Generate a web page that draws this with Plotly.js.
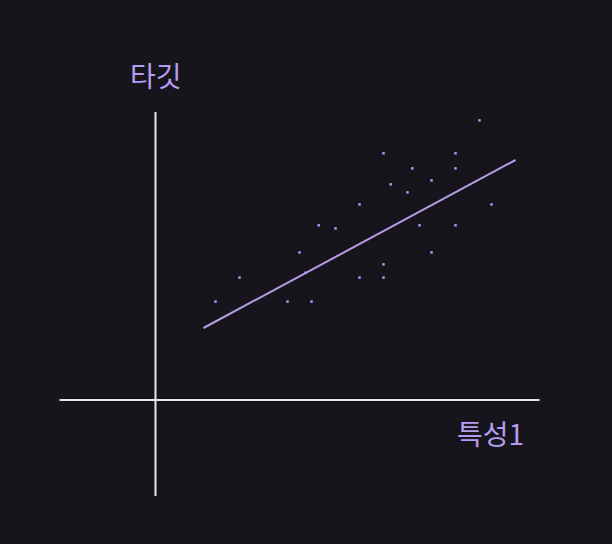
<!DOCTYPE html>
<html>
<head>
<meta charset="utf-8">
<script src="https://cdn.plot.ly/plotly-3.0.1.min.js"></script>
<style>html,body{margin:0;padding:0;background:#17151c;}</style>
</head>
<body>
<div id="chart" style="width:612px;height:544px;"></div>
<script>
// Scatter data (feature 1 vs target)
const featureX = [27.0, 19.0, 25.0, 21.4, 25.0, 23.0, 19.6, 21.0, 17.0, 28.0, 13.6, 15.0, 22.0, 25.0, 12.0, 23.0, 19.0, 7.0, 17.0, 19.0, 5.0, 11.0, 13.0, 12.5];
const targetY  = [23.3, 20.56, 20.56, 19.3, 19.3, 18.3, 17.97, 17.3, 16.3, 16.3, 14.56, 14.3, 14.56, 14.56, 12.3, 12.3, 11.3, 10.2, 10.2, 10.2, 8.2, 8.2, 8.2, 10.6];
// Fitted regression line endpoints
const fitX = [4.0, 30.0];
const fitY = [6.0, 20.0];
// Axis extents
const axisXRange = [-8, 32];
const axisYRange = [-8, 24];
const labels = {x: '특성1', y: '타깃'};

const bg = '#17151c';
const traces = [
  {x: fitX, y: fitY, mode: 'lines', type: 'scatter',
   line: {color: '#b89ae8', width: 2}, hoverinfo: 'skip'},
  {x: featureX, y: targetY, mode: 'markers', type: 'scatter',
   marker: {color: '#a59cf6', size: 2.5, symbol: 'square', line: {width: 0}}}
];
const layout = {
  width: 612, height: 544, autosize: false,
  margin: {l: 0, r: 0, t: 0, b: 0},
  paper_bgcolor: bg, plot_bgcolor: bg,
  showlegend: false,
  xaxis: {range: [-155.5/12, (612-155.5)/12], visible: false, fixedrange: true},
  yaxis: {range: [-(544-400)/12, 400/12], visible: false, fixedrange: true},
  shapes: [
    {type: 'line', xref: 'x', yref: 'y', x0: axisXRange[0], x1: axisXRange[1], y0: 0, y1: 0,
     line: {color: '#e8e8e8', width: 2}, layer: 'below'},
    {type: 'line', xref: 'x', yref: 'y', x0: 0, x1: 0, y0: axisYRange[0], y1: axisYRange[1],
     line: {color: '#e8e8e8', width: 2}, layer: 'below'}
  ],
  annotations: [
    {text: labels.y, xref: 'x', yref: 'y', x: 0, y: (400-75)/12, showarrow: false,
     xanchor: 'center', yanchor: 'middle',
     font: {family: 'Noto Sans CJK KR', size: 28, color: '#b59cf2'}},
    {text: labels.x, xref: 'x', yref: 'y', x: (490-155.5)/12, y: (400-433)/12, showarrow: false,
     xanchor: 'center', yanchor: 'middle',
     font: {family: 'Noto Sans CJK KR', size: 28, color: '#b59cf2'}}
  ]
};
Plotly.newPlot('chart', traces, layout, {staticPlot: true, displayModeBar: false});
</script>
</body>
</html>
